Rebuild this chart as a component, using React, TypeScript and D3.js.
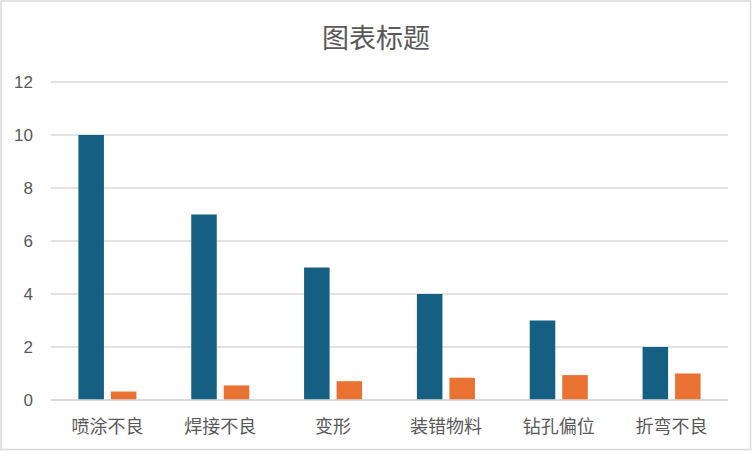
import * as d3 from "d3";
import { useEffect, useRef } from "react";

const categories = ["喷涂不良", "焊接不良", "变形", "装错物料", "钻孔偏位", "折弯不良"];
const seriesNames = ["数量", "累计占比"];
const counts = [10, 7, 5, 4, 3, 2];
const cumulative = [0.32, 0.55, 0.71, 0.84, 0.94, 1.0];
const yTicks = [0, 2, 4, 6, 8, 10, 12];
const title = "图表标题";

const colors = ["#156082", "#E97132"];

export default function App() {
  const ref = useRef<SVGSVGElement | null>(null);
  const width = 752;
  const height = 452;

  useEffect(() => {
    const margin = { left: 51, right: 24, top: 82, bottom: 52 };

    // Clear old SVG content before rendering
    d3.select(ref.current).selectAll("*").remove();

    const svg = d3.select(ref.current).attr("width", width).attr("height", height);

    svg
      .append("rect")
      .attr("x", 1)
      .attr("y", 1)
      .attr("width", width - 2.5)
      .attr("height", height - 3.5)
      .attr("fill", "#ffffff")
      .attr("stroke", "#d9d9d9")
      .attr("stroke-width", 1.5);

    svg
      .append("text")
      .attr("x", width / 2)
      .attr("y", 36)
      .attr("text-anchor", "middle")
      .attr("dominant-baseline", "central")
      .attr("font-family", "'Noto Sans CJK SC', sans-serif")
      .attr("font-size", 27)
      .attr("fill", "#595959")
      .text(title);

    const x0 = d3
      .scaleBand<string>()
      .domain(categories)
      .range([margin.left, width - margin.right]);

    const x1 = d3
      .scaleBand<string>()
      .domain(seriesNames)
      .range([0, x0.bandwidth()])
      .paddingInner(0.215)
      .paddingOuter(0.843);

    const y = d3
      .scaleLinear()
      .domain([0, 12])
      .range([height - margin.bottom, margin.top]);

    // gridlines
    svg
      .append("g")
      .selectAll("line")
      .data(yTicks)
      .enter()
      .append("line")
      .attr("x1", margin.left)
      .attr("x2", width - margin.right)
      .attr("y1", (d) => y(d))
      .attr("y2", (d) => y(d))
      .attr("stroke", "#d9d9d9")
      .attr("stroke-width", 1.5);

    svg
      .append("g")
      .selectAll("text")
      .data(yTicks)
      .enter()
      .append("text")
      .attr("x", 33)
      .attr("y", (d) => y(d))
      .attr("text-anchor", "end")
      .attr("dominant-baseline", "central")
      .attr("font-family", "'Liberation Sans', Arial, sans-serif")
      .attr("font-size", 17)
      .attr("fill", "#595959")
      .text((d) => d);

    const rows = categories.map((c, i) => ({ c, vals: [counts[i], cumulative[i]] }));

    const groups = svg
      .append("g")
      .selectAll("g")
      .data(rows)
      .enter()
      .append("g")
      .attr("transform", (d) => `translate(${x0(d.c)},0)`);

    groups
      .selectAll("rect")
      .data((d) => d.vals.map((v, j) => ({ s: seriesNames[j], v, j })))
      .enter()
      .append("rect")
      .attr("x", (d) => x1(d.s) as number)
      .attr("width", x1.bandwidth())
      .attr("y", (d) => y(d.v))
      .attr("height", (d) => y(0) - y(d.v))
      .attr("fill", (d) => colors[d.j]);

    // baseline on top of bars
    svg
      .append("line")
      .attr("x1", margin.left)
      .attr("x2", width - margin.right)
      .attr("y1", y(0))
      .attr("y2", y(0))
      .attr("stroke", "#d9d9d9")
      .attr("stroke-width", 1.5);

    svg
      .append("g")
      .selectAll("text")
      .data(categories)
      .enter()
      .append("text")
      .attr("x", (d) => (x0(d) as number) + x0.bandwidth() / 2)
      .attr("y", 425)
      .attr("text-anchor", "middle")
      .attr("dominant-baseline", "central")
      .attr("font-family", "'Noto Sans CJK SC', sans-serif")
      .attr("font-size", 18)
      .attr("fill", "#595959")
      .text((d) => d);
  }, []);

  return (
    <div style={{ position: "fixed", left: 0, top: 0 }}>
      <svg ref={ref} style={{ display: "block" }}></svg>
    </div>
  );
}
